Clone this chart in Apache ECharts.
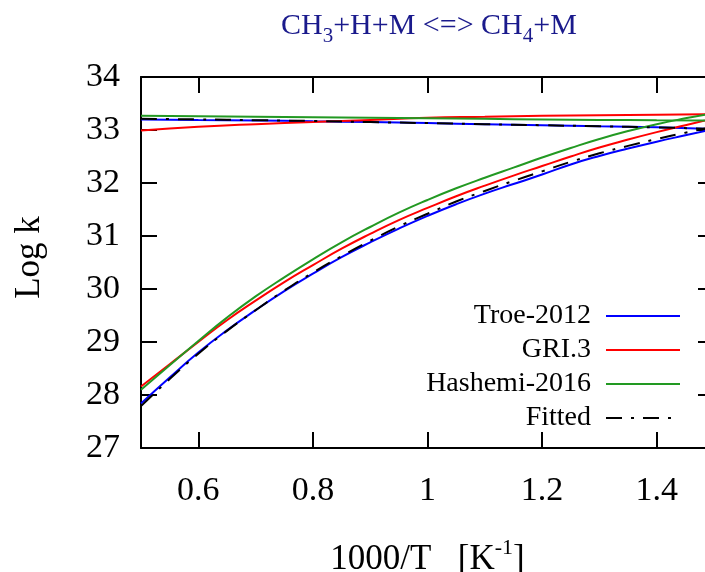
<!DOCTYPE html>
<html>
<head>
<meta charset="utf-8">
<script src="https://cdn.jsdelivr.net/npm/echarts@6/dist/echarts.min.js"></script>
<style>html,body{margin:0;padding:0;background:#fff;}#c{width:705px;height:572px;}</style>
</head>
<body>
<div id="c"></div>
<script>
// ---- data ----
const xLow = [0.50,0.55,0.60,0.65,0.70,0.75,0.80,0.85,0.90,0.95,1.00,1.05,1.10,1.15,1.20,1.25,1.30,1.35,1.40,1.45,1.50];
const troeLow = [27.84,28.33,28.80,29.22,29.60,29.96,30.29,30.60,30.88,31.14,31.38,31.60,31.80,31.98,32.16,32.35,32.51,32.65,32.78,32.90,33.02];
const griLow  = [28.16,28.58,29.00,29.41,29.78,30.13,30.45,30.76,31.04,31.30,31.53,31.75,31.95,32.14,32.32,32.50,32.67,32.82,32.96,33.09,33.22];
const hashLow = [28.10,28.56,29.02,29.46,29.86,30.22,30.56,30.88,31.17,31.44,31.68,31.90,32.10,32.29,32.48,32.66,32.83,32.98,33.11,33.22,33.32];
const fitLow  = [27.79,28.30,28.78,29.21,29.60,29.97,30.31,30.62,30.91,31.18,31.42,31.65,31.85,32.04,32.22,32.40,32.56,32.70,32.83,32.95,33.06];

const xHigh = [0.5,0.6,0.7,0.8,0.9,1.0,1.1,1.2,1.3,1.4,1.5];
const troeHigh = [33.20,33.19,33.18,33.165,33.15,33.13,33.11,33.09,33.07,33.05,33.02];
const griHigh  = [32.99,33.06,33.11,33.15,33.19,33.23,33.25,33.27,33.28,33.29,33.30];
const hashHigh = [33.27,33.26,33.25,33.24,33.23,33.22,33.21,33.20,33.19,33.185,33.18];
const fitHigh  = [33.21,33.20,33.185,33.17,33.15,33.13,33.11,33.09,33.07,33.05,33.02];

const seriesNames = ['Troe-2012','GRI.3','Hashemi-2016','Fitted'];
const yTicks = [27,28,29,30,31,32,33,34];
// ---------------

const FONT = "'Liberation Serif','Times New Roman',serif";
const zip = (xs, ys) => xs.map((x, i) => [x, ys[i]]);

const styles = [
  {color:'#0000ff', type:'solid'},
  {color:'#ff0000', type:'solid'},
  {color:'#229922', type:'solid'},
  {color:'#000000', type:[16,9,3,9]}
];
const lows = [troeLow, griLow, hashLow, fitLow];
const highs = [troeHigh, griHigh, hashHigh, fitHigh];

const series = [];
seriesNames.forEach((name, i) => {
  [zip(xLow, lows[i]), zip(xHigh, highs[i])].forEach(d => {
    series.push({
      name: name, type: 'line', data: d, smooth: true, symbol: 'none',
      color: styles[i].color,
      lineStyle: {color: styles[i].color, width: 2, type: styles[i].type},
      z: 2 + i, animation: false
    });
  });
});

const axisLine = {show: true, lineStyle: {color: '#000', width: 2}};
const tick = {show: true, inside: true, length: 16, lineStyle: {color: '#000', width: 2}};

const chart = echarts.init(document.getElementById('c'), null, {renderer: 'canvas'});
chart.setOption({
  animation: false,
  backgroundColor: '#fff',
  title: {
    left: 281, top: 11, padding: 0,
    text: '{a|CH}{s|3}{a|+H+M <=> CH}{s|4}{a|+M}',
    textStyle: {
      fontWeight: 'normal',
      rich: {
        a: {fontFamily: FONT, fontSize: 30, fontWeight: 'normal', color: '#1a1a8c', lineHeight: 36, verticalAlign: 'top'},
        s: {fontFamily: FONT, fontSize: 21, fontWeight: 'normal', color: '#1a1a8c', lineHeight: 36, verticalAlign: 'bottom', padding: [12,0,0,0]}
      }
    }
  },
  grid: {left: 141, top: 77, right: -9, bottom: 124, containLabel: false, outerBoundsMode: 'none'},
  legend: {
    orient: 'vertical', right: 19, top: 297, align: 'right',
    itemWidth: 74, itemHeight: 14, itemGap: 6,
    data: seriesNames,
    itemStyle: {opacity: 0},
    textStyle: {fontFamily: FONT, fontSize: 28, color: '#000', lineHeight: 28, padding: [0, 10, 0, 0]},
    selectedMode: false
  },
  xAxis: [{
    type: 'value', min: 0.5, max: 1.5, splitNumber: 5,
    axisLine: axisLine, axisTick: tick, splitLine: {show: false},
    axisLabel: {fontFamily: FONT, fontSize: 34, color: '#000', margin: 26, showMinLabel: false, showMaxLabel: false},
    name: '{a|1000/T   [K}{s|-1}{a|]}', nameLocation: 'middle', nameGap: 89,
    nameTextStyle: {rich: {
      a: {fontFamily: FONT, fontSize: 35, color: '#000', lineHeight: 40, verticalAlign: 'bottom'},
      s: {fontFamily: FONT, fontSize: 22, color: '#000', lineHeight: 40, verticalAlign: 'top', padding: [0,0,14,0]}
    }}
  }, {
    type: 'value', position: 'top', min: 0.5, max: 1.5, splitNumber: 5,
    axisLine: axisLine, axisTick: tick, splitLine: {show: false}, axisLabel: {show: false}
  }],
  yAxis: [{
    type: 'value', min: yTicks[0], max: yTicks[yTicks.length-1], interval: 1,
    axisLine: axisLine, axisTick: tick, splitLine: {show: false},
    axisLabel: {fontFamily: FONT, fontSize: 34, color: '#000', margin: 21},
    name: 'Log k', nameLocation: 'middle', nameGap: 94, nameRotate: 90,
    nameTextStyle: {fontFamily: FONT, fontSize: 35, color: '#000', padding: [0, 0, 0, 10]}
  }, {
    type: 'value', position: 'right', min: yTicks[0], max: yTicks[yTicks.length-1], interval: 1,
    axisLine: axisLine, axisTick: tick, splitLine: {show: false}, axisLabel: {show: false}
  }],
  series: series
});
</script>
</body>
</html>
